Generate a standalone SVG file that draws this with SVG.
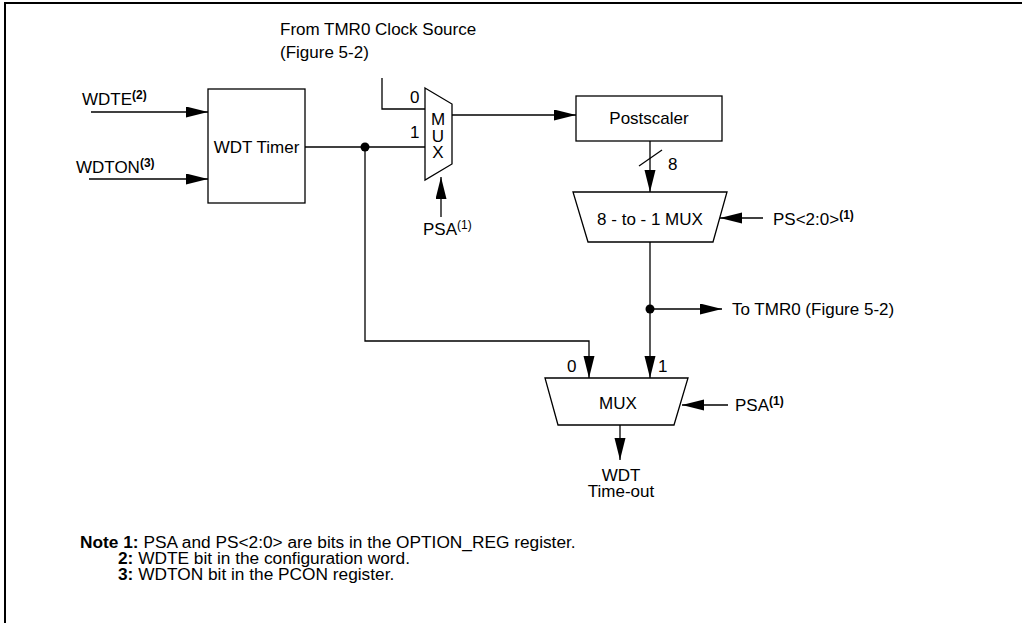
<svg xmlns="http://www.w3.org/2000/svg" width="1022" height="623" viewBox="0 0 1022 623">
<style>
text{font-family:"Liberation Sans",Arial,sans-serif;font-size:17px;fill:#000}
.sup{font-size:12px;font-weight:bold}
.supn{font-size:12px}
.note{font-size:17.3px}
.b{font-weight:bold}
.ln{fill:none;stroke:#000;stroke-width:1.3}
.box{fill:#fff;stroke:#000;stroke-width:1.3}
.mid{text-anchor:middle}
.vert{writing-mode:vertical-rl;text-orientation:upright;letter-spacing:-2.5px}
</style>
<defs>
<marker id="ah" markerUnits="userSpaceOnUse" markerWidth="24" markerHeight="12" refX="22" refY="5.5" orient="auto">
<path d="M0,0 L22,5.5 L0,11 z" fill="#000"/>
</marker>
</defs>
<rect width="1022" height="623" fill="#fff"/>
<path d="M5,623 V3 H1022" fill="none" stroke="#000" stroke-width="2"/>

<g id="connectors">
<line class="ln" x1="91" y1="112" x2="208" y2="112" marker-end="url(#ah)"/>
<line class="ln" x1="89" y1="179" x2="208" y2="179" marker-end="url(#ah)"/>
<line class="ln" x1="305" y1="147" x2="425" y2="147"/>
<circle cx="365" cy="147" r="4.5" fill="#000"/>
<polyline class="ln" points="365,147 365,341 589,341 589,378" marker-end="url(#ah)"/>
<polyline class="ln" points="382,78 382,109 425,109"/>
<line class="ln" x1="441" y1="217" x2="441" y2="177" marker-end="url(#ah)"/>
<line class="ln" x1="452" y1="115" x2="576" y2="115" marker-end="url(#ah)"/>
<line class="ln" x1="650" y1="141" x2="650" y2="192" marker-end="url(#ah)"/>
<line class="ln" x1="639" y1="166" x2="662" y2="150"/>
<line class="ln" x1="763" y1="218" x2="720" y2="218" marker-end="url(#ah)"/>
<line class="ln" x1="650" y1="242" x2="650" y2="378" marker-end="url(#ah)"/>
<circle cx="650" cy="309" r="4.5" fill="#000"/>
<line class="ln" x1="650" y1="309" x2="722" y2="309" marker-end="url(#ah)"/>
<line class="ln" x1="728" y1="405" x2="682" y2="405" marker-end="url(#ah)"/>
<line class="ln" x1="620" y1="425" x2="620" y2="460" marker-end="url(#ah)"/>
</g>

<g id="labels">
<text x="280" y="35">From TMR0 Clock Source</text>
<text x="280" y="58">(Figure 5-2)</text>
<text x="82" y="105">WDTE<tspan class="sup" dy="-6">(2)</tspan></text>
<text x="76" y="173">WDTON<tspan class="sup" dy="-6">(3)</tspan></text>
<text x="423" y="235">PSA<tspan class="supn" dy="-6">(1)</tspan></text>
<text x="668" y="170">8</text>
<text x="773" y="225">PS&lt;2:0&gt;<tspan class="sup" dy="-6">(1)</tspan></text>
<text x="732" y="315">To TMR0 (Figure 5-2)</text>
<text x="735" y="411">PSA<tspan class="sup" dy="-6">(1)</tspan></text>
<text class="mid"><tspan x="621" y="481">WDT</tspan><tspan x="621" y="497">Time-out</tspan></text>
</g>

<g id="wdt-timer">
<rect class="box" x="208" y="89" width="97" height="114"/>
<text class="mid" x="256.5" y="153">WDT Timer</text>
</g>

<g id="mux-small">
<polygon class="box" points="425,88 452,104 452,164 425,180"/>
<text x="410" y="103">0</text>
<text x="410" y="138">1</text>
<text class="vert" x="438" y="110">MUX</text>
</g>

<g id="postscaler">
<rect class="box" x="576" y="96" width="146" height="45"/>
<text class="mid" x="649" y="124">Postscaler</text>
</g>

<g id="mux-8to1">
<polygon class="box" points="573,192 727,192 713,242 588,242"/>
<text class="mid" x="650" y="225">8 - to - 1 MUX</text>
</g>

<g id="mux-out">
<polygon class="box" points="545,378 688,378 674,425 558,425"/>
<text x="567" y="372">0</text>
<text x="658" y="372">1</text>
<text class="mid" x="618" y="409">MUX</text>
</g>

<g id="notes">
<text class="note"><tspan x="80" y="548"><tspan class="b">Note 1:</tspan> PSA and PS&lt;2:0&gt; are bits in the OPTION_REG register.</tspan><tspan x="118" y="564"><tspan class="b">2:</tspan> WDTE bit in the configuration word.</tspan><tspan x="118" y="580"><tspan class="b">3:</tspan> WDTON bit in the PCON register.</tspan></text>
</g>
</svg>
